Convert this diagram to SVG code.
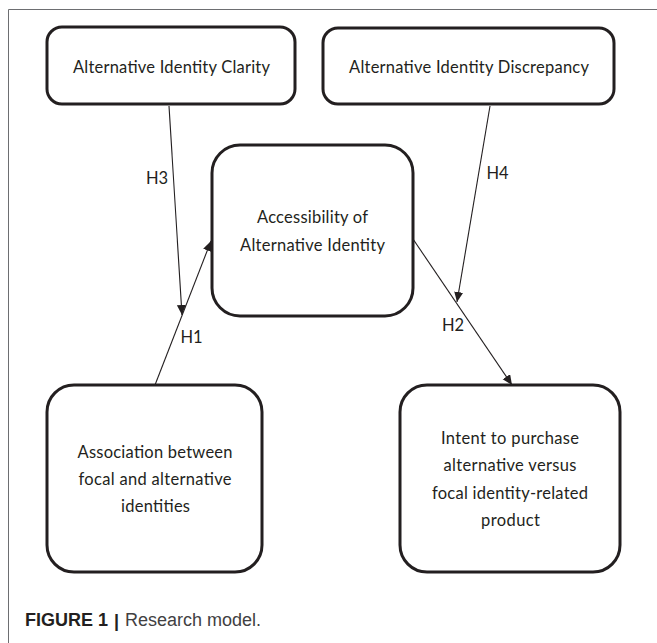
<svg xmlns="http://www.w3.org/2000/svg" width="657" height="643" viewBox="0 0 657 643">
  <style>
    .box { fill: #ffffff; stroke: #231f20; stroke-width: 3; }
    .t { font-family: Lato, "Open Sans", "Liberation Sans", sans-serif; font-size: 16.5px; fill: #231f20; text-anchor: middle; }
    .lbl { font-family: Lato, "Open Sans", "Liberation Sans", sans-serif; font-size: 16.5px; fill: #231f20; text-anchor: middle; }
    .conn { stroke: #231f20; stroke-width: 1.1; fill: none; marker-end: url(#arrow); }
    .frame { stroke: #6d6e71; stroke-width: 1; fill: none; }
    .cap { font-family: "Liberation Sans", Arial, sans-serif; font-size: 18px; }
  </style>
  <defs>
    <marker id="arrow" markerUnits="userSpaceOnUse" markerWidth="12" markerHeight="10" refX="10" refY="4.5" orient="auto">
      <path d="M0,0 L10,4.5 L0,9 Z" fill="#231f20"/>
    </marker>
  </defs>
  <rect width="657" height="643" fill="#ffffff"/>
  <g id="frame">
    <path class="frame" d="M8.5,643 V9.5 H657"/>
  </g>

  <g id="connectors">
    <line class="conn" x1="169" y1="106" x2="182" y2="315"/>
    <line class="conn" x1="490" y1="106" x2="457" y2="302"/>
    <line class="conn" x1="155" y1="385" x2="211" y2="241"/>
    <line class="conn" x1="413" y1="239" x2="512" y2="385"/>
    <text class="lbl" x="157" y="184">H3</text>
    <text class="lbl" x="497.5" y="179">H4</text>
    <text class="lbl" x="191.5" y="343">H1</text>
    <text class="lbl" x="453" y="331">H2</text>
  </g>

  <g id="node-clarity">
    <rect class="box" x="47" y="27" width="248" height="77" rx="15"/>
    <text class="t" x="171.5" y="73" textLength="197">Alternative Identity Clarity</text>
  </g>

  <g id="node-discrepancy">
    <rect class="box" x="323" y="28" width="291" height="76" rx="15"/>
    <text class="t" x="469" y="73" textLength="240">Alternative Identity Discrepancy</text>
  </g>

  <g id="node-accessibility">
    <rect class="box" x="212" y="145" width="201" height="171" rx="28"/>
    <text class="t" x="312.5" y="223" textLength="111">Accessibility of</text>
    <text class="t" x="312.5" y="251" textLength="145">Alternative Identity</text>
  </g>

  <g id="node-association">
    <rect class="box" x="47" y="385" width="215" height="187" rx="27"/>
    <text class="t" x="155" y="458" textLength="155">Association between</text>
    <text class="t" x="155" y="485" textLength="153">focal and alternative</text>
    <text class="t" x="155.5" y="512" textLength="69">identities</text>
  </g>

  <g id="node-intent">
    <rect class="box" x="400" y="385" width="220" height="187" rx="27"/>
    <text class="t" x="510" y="444" textLength="138">Intent to purchase</text>
    <text class="t" x="510" y="471" textLength="133">alternative versus</text>
    <text class="t" x="510" y="499" textLength="156">focal identity-related</text>
    <text class="t" x="510.5" y="526" textLength="59">product</text>
  </g>

  <g id="caption">
    <text class="cap" x="25" y="626" font-weight="bold" fill="#231f20">FIGURE 1</text>
    <text class="cap" x="114" y="627" font-weight="bold" fill="#231f20">|</text>
    <text class="cap" x="125" y="626" fill="#414042">Research model.</text>
  </g>
</svg>
